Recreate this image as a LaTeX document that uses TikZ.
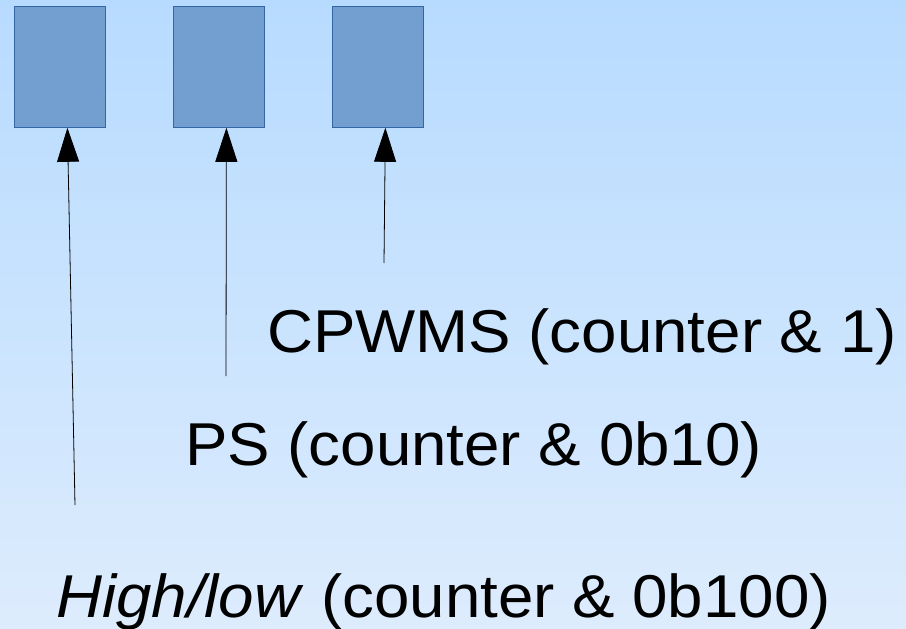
\documentclass[tikz,border=0pt]{standalone}
\usepackage{fontspec}
\setmainfont{Liberation Sans}
\usetikzlibrary{arrows.meta}
\definecolor{bgtop}{RGB}{183,219,255}
\definecolor{bgbot}{RGB}{221,236,253}
\definecolor{boxfill}{RGB}{114,159,207}
\definecolor{boxline}{RGB}{52,101,164}
% labels are set slightly wide
\newcommand{\widetext}[1]{\scalebox{1.052}[1.0]{#1}}
\tikzset{
  bit/.style={draw=boxline, fill=boxfill, line width=0.8pt, minimum width=91pt, minimum height=121pt, inner sep=0pt, anchor=north west},
  lbl/.style={anchor=base west, inner sep=0pt, font=\fontsize{60.5}{72}\selectfont},
  ptr/.style={line width=0.8pt, -{Triangle[length=34pt, width=22pt]}}
}
\begin{document}
\begin{tikzpicture}[x=1pt, y=-1pt]
  % background gradient
  \shade[top color=bgtop, bottom color=bgbot] (0,0) rectangle (906,629);
  \useasboundingbox (0,0) rectangle (906,629);
  % the three counter bits
  \node[bit] (b2) at (14,6) {};
  \node[bit] (b1) at (173,6) {};
  \node[bit] (b0) at (332,6) {};
  % labels
  \node[lbl] (hl) at (56,617) {\widetext{\textit{High/low} (counter \& 0b100)}};
  \node[lbl] (ps) at (185,465) {\widetext{PS (counter \& 0b10)}};
  \node[lbl] (cp) at (267,352) {\widetext{CPWMS (counter \& 1)}};
  % pointer tails
  \coordinate (t2) at (75,505);
  \coordinate (t1) at (226,376);
  \coordinate (t0) at (384,263);
  % pointers
  \draw[ptr] (t2) -- ([xshift=7.5pt]b2.south);
  \draw[ptr] (t1) -- ([xshift=7.5pt]b1.south);
  \draw[ptr] (t0) -- ([xshift=7.5pt]b0.south);
\end{tikzpicture}
\end{document}
